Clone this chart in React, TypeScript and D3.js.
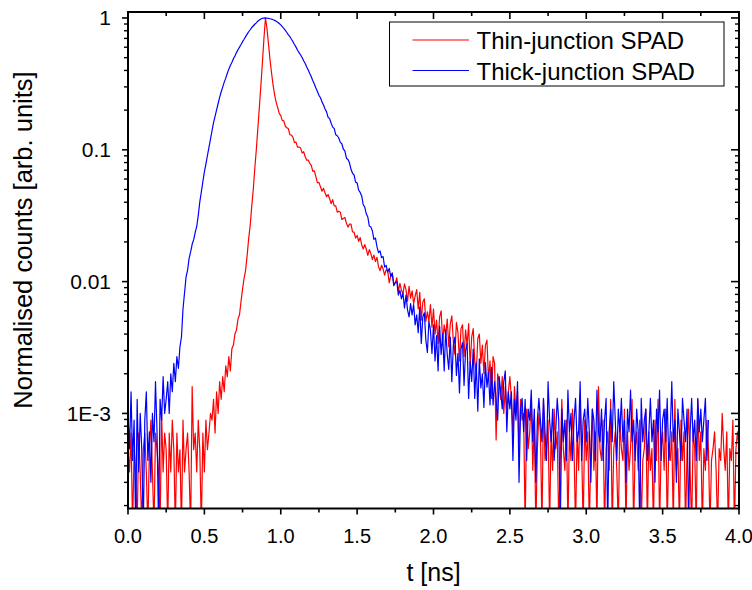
import React from "react";
import * as d3 from "d3";

// time step of the histogram (ns)
const T_STEP = 0.01;
// counts are stored normalised ×1e4 (peak = 10000)
const NORM = 1e-4;

// Thin-junction SPAD, t = 0.00 … 4.00 ns
const thinCounts: number[] = [
  5.3, 3.6, 7.1, 0, 5.3, 3.6, 0, 7.1, 3.6, 0,
  5.3, 7.1, 3.6, 0, 5.3, 8.9, 3.6, 0, 7.1, 5.3,
  3.6, 0, 10, 3.6, 7.1, 5.3, 0, 7.1, 3.6, 8.9,
  5.3, 0, 7.1, 3.6, 5.3, 0, 8.9, 3.6, 5.3, 7.1,
  3.6, 0, 16, 5.3, 7.1, 3.6, 8.9, 5.3, 0, 7.1,
  3.6, 8.9, 5.3, 7.1, 10, 8.9, 12.8, 7.1, 14.6, 10,
  17.4, 12.8, 19, 14.6, 23, 19, 27, 21, 31, 33,
  40, 43, 52, 56, 71, 88, 106, 122, 158, 212,
  268, 372, 498, 722, 1002, 1448, 2105, 3095, 4610, 7010,
  10000, 8290, 6310, 4790, 3810, 3090, 2610, 2290, 2090, 1890,
  1816, 1673, 1658, 1509, 1470, 1442, 1300, 1293, 1244, 1135,
  1142, 1048, 1050, 1030, 946, 967, 886, 834, 836, 788,
  762, 686, 693, 626, 562, 566, 525, 485, 510, 470,
  441, 458, 425, 390, 419, 376, 376, 336, 342, 336,
  296, 301, 307, 277, 259, 273, 273, 238, 237, 214,
  224, 202, 216, 190, 177, 191, 176, 158, 175, 163,
  147, 159, 142, 153, 130, 121, 133, 125, 112, 123,
  121, 98, 110, 116, 96, 98, 107, 84, 97, 86,
  81, 96, 87, 71, 92, 75, 85, 68, 78, 87,
  62, 83, 51, 70, 74, 50, 59, 50, 67, 45,
  62, 40, 51, 34, 54, 60, 35, 47, 39, 52,
  32, 48, 55, 35, 28, 49, 41, 25, 44, 47,
  27, 43, 33, 48, 23, 38, 44, 25, 20, 37,
  40, 24, 33, 20, 33, 36, 18, 25, 13, 27,
  24, 6.3, 20, 17.4, 12.8, 19, 10, 16, 10.8, 14.6,
  19, 12.8, 7.25, 16, 10, 14.6, 5.4, 12.8, 8.9, 10,
  0, 10.8, 5.4, 7.25, 12.8, 3.7, 8.9, 0, 5.4, 10,
  7.25, 0, 12.8, 4.4, 5.4, 8.9, 0, 7.25, 3.7, 10.8,
  5.4, 7.25, 0, 4.4, 12.8, 5.4, 3.7, 8.9, 0, 7.25,
  4.4, 10.8, 5.4, 0, 7.25, 3.7, 12.8, 5.4, 0, 8.9,
  4.4, 7.25, 0, 5.4, 10.8, 3.7, 7.25, 0, 16, 5.4,
  4.4, 8.9, 0, 5.4, 7.25, 3.7, 12.8, 0, 5.4, 7.25,
  3.7, 0, 8.9, 5.4, 4.4, 10.8, 0, 7.25, 3.7, 5.4,
  12.8, 0, 5.4, 7.25, 3.7, 8.9, 0, 4.4, 5.4, 10.8,
  0, 7.25, 3.7, 5.4, 0, 8.9, 4.4, 12.8, 0, 5.4,
  7.25, 3.7, 10.8, 0, 5.4, 4.4, 7.25, 0, 12.8, 3.7,
  5.4, 0, 8.9, 4.4, 7.25, 0, 5.4, 10.8, 3.7, 0,
  7.25, 5.4, 0, 12.8, 4.4, 7.25, 0, 5.4, 3.7, 8.9,
  5.4, 0, 4.4, 5.4, 7.25, 3.7, 0, 5.4, 4.4, 10,
  5.4, 3.7, 7.25, 0, 5.4, 4.4, 8.9, 0, 5.4, 7.25,
  5.4,
];

// Thick-junction SPAD, t = 0.00 … 3.80 ns
const thickCounts: number[] = [
  10, 5.4, 14.6, 4.4, 8.9, 0, 12.8, 3.6, 10, 5.4,
  0, 8.9, 14.6, 4.4, 7.25, 3, 10, 6.1, 17.4, 7.25,
  0, 12.8, 8.9, 19, 10, 12.8, 17.4, 10, 20, 14.6,
  24, 17.4, 27, 22, 32, 38, 62, 82, 108, 122,
  150, 168, 192, 208, 236, 262, 318, 402, 478, 572,
  680, 780, 905, 1045, 1205, 1395, 1605, 1795, 2010, 2245,
  2500, 2755, 2990, 3260, 3495, 3810, 4090, 4360, 4595, 4905,
  5145, 5460, 5745, 6010, 6290, 6610, 6890, 7215, 7540, 7860,
  8140, 8460, 8690, 8960, 9190, 9460, 9640, 9810, 9940, 10000,
  9990, 9960, 9940, 9860, 9810, 9690, 9590, 9440, 9290, 9070,
  8860, 8590, 8340, 8040, 7760, 7440, 7210, 6890, 6610, 6290,
  6010, 5690, 5460, 5240, 5010, 4740, 4510, 4240, 4030, 3790,
  3580, 3340, 3160, 2940, 2770, 2590, 2480, 2310, 2190, 2040,
  1939, 1764, 1724, 1590, 1485, 1452, 1303, 1278, 1229, 1138,
  1112, 1010, 979, 863, 843, 796, 711, 663, 644, 568,
  561, 495, 475, 447, 383, 367, 327, 309, 264, 260,
  242, 209, 214, 184, 166, 171, 152, 155, 129, 133,
  118, 126, 109, 116, 93, 98, 100, 79, 86, 74,
  82, 63, 79, 61, 54, 68, 56, 67, 47, 56,
  41, 64, 34, 54, 58, 36, 29, 50, 43, 28.5,
  47, 25, 39, 21, 46, 28, 40, 21, 43, 28,
  21.6, 38, 17.4, 33, 38, 19.4, 28.6, 14.3, 31, 34.5,
  16.3, 30, 34, 13, 24.8, 17.5, 30.8, 13, 24.2, 10.4,
  26, 15.6, 20, 11.1, 24.3, 15.8, 20.4, 11.6, 22.4, 11.6,
  17.4, 12.8, 8.9, 19, 14.6, 10.8, 17.4, 21, 7.25, 14.6,
  10.8, 14.6, 4.4, 12.8, 8.9, 17.4, 3, 10.8, 13, 7.25,
  12.8, 4.4, 10.8, 8.9, 15, 6.1, 10.8, 3, 8.9, 13,
  8.9, 6.1, 13, 7.25, 4.4, 17.4, 8.9, 6.1, 10.8, 4.4,
  7.25, 13, 8.9, 0, 10.8, 6.1, 8.9, 4.4, 15, 7.25,
  10, 4.4, 8.9, 13, 6.1, 7.25, 17.4, 4.4, 8.9, 10.8,
  6.1, 13, 7.25, 3, 10.8, 8.9, 4.4, 15, 7.25, 6.1,
  10.8, 4.4, 8.9, 13, 0, 7.25, 10.8, 6.1, 17.4, 8.9,
  4.4, 10.8, 7.25, 13, 6.1, 8.9, 3, 10.8, 7.25, 15,
  6.1, 8.9, 4.4, 10.8, 7.25, 0, 13, 6.1, 8.9, 10.8,
  4.4, 7.25, 13, 6.1, 8.9, 3, 10.8, 7.25, 15, 4.4,
  8.9, 10.8, 6.1, 13, 4.4, 7.25, 17.4, 6.1, 8.9, 3,
  10.8, 7.25, 4.4, 13, 8.9, 6.1, 10.8, 0, 7.25, 13,
  6.1, 8.9, 4.4, 13, 7.25, 10.8, 6.1, 8.9, 13, 4.4,
  8.9,
];

const seriesNames = ["Thin-junction SPAD", "Thick-junction SPAD"];
const seriesColors = ["#ff0000", "#0000ff"];

const xMajorTicks = [0, 0.5, 1, 1.5, 2, 2.5, 3, 3.5, 4];
const xMinorTicks = [0.25, 0.75, 1.25, 1.75, 2.25, 2.75, 3.25, 3.75];
const yMajorTicks = [1, 0.1, 0.01, 0.001];
const yTickLabels = ["1", "0.1", "0.01", "1E-3"];

const X_DOMAIN: [number, number] = [0, 4];
const Y_DOMAIN: [number, number] = [1.9e-4, 1.11];

const W = 752;
const H = 590;
const M = { left: 128, right: 739, top: 12, bottom: 508.5 };
const FONT = "'Liberation Sans', Arial, sans-serif";

export default function App() {
  const x = d3.scaleLinear().domain(X_DOMAIN).range([M.left, M.right]);
  const y = d3.scaleLog().domain(Y_DOMAIN).range([M.bottom, M.top]);

  const toPoints = (arr: number[]) =>
    arr.map((c, i) => ({ t: i * T_STEP, v: c * NORM }));

  const line = d3
    .line<{ t: number; v: number }>()
    .x((d) => x(d.t))
    .y((d) => (d.v > 0 ? y(d.v) : M.bottom + 20));

  const series = [toPoints(thinCounts), toPoints(thickCounts)];

  const yMinor: number[] = [];
  for (let e = -4; e <= 0; e++) {
    for (let m = 2; m <= 9; m++) {
      const v = m * Math.pow(10, e);
      if (v >= Y_DOMAIN[0] && v <= Y_DOMAIN[1]) yMinor.push(v);
    }
  }
  const fmt = d3.format(".1f");

  return (
    <svg
      width={W}
      height={H}
      style={{ position: "absolute", left: 0, top: 0, background: "#fff" }}
      fontFamily={FONT}
    >
      <defs>
        <clipPath id="plotClip">
          <rect x={M.left} y={M.top} width={M.right - M.left} height={M.bottom - M.top} />
        </clipPath>
      </defs>

      <g clipPath="url(#plotClip)">
        {series.map((s, i) => (
          <path
            key={i}
            d={line(s) || ""}
            fill="none"
            stroke={seriesColors[i]}
            strokeWidth={1.2}
            strokeLinejoin="round"
          />
        ))}
      </g>

      {/* frame */}
      <rect
        x={M.left}
        y={M.top}
        width={M.right - M.left}
        height={M.bottom - M.top}
        fill="none"
        stroke="#000"
        strokeWidth={2}
      />

      {/* x ticks */}
      {xMajorTicks.map((t) => (
        <g key={"xM" + t}>
          <line x1={x(t)} x2={x(t)} y1={M.bottom} y2={M.bottom + 6} stroke="#000" strokeWidth={1.6} />
          <line x1={x(t)} x2={x(t)} y1={M.top} y2={M.top + 7} stroke="#000" strokeWidth={1.6} />
          <text x={x(t)} y={M.bottom + 34} textAnchor="middle" fontSize={20} fill="#000">
            {fmt(t)}
          </text>
        </g>
      ))}
      {xMinorTicks.map((t) => (
        <g key={"xm" + t}>
          <line x1={x(t)} x2={x(t)} y1={M.bottom} y2={M.bottom + 4} stroke="#000" strokeWidth={1.6} />
          <line x1={x(t)} x2={x(t)} y1={M.top} y2={M.top + 4} stroke="#000" strokeWidth={1.6} />
        </g>
      ))}

      {/* y ticks */}
      {yMajorTicks.map((v, i) => (
        <g key={"yM" + v}>
          <line x1={M.left - 6} x2={M.left} y1={y(v)} y2={y(v)} stroke="#000" strokeWidth={1.6} />
          <line x1={M.right - 8} x2={M.right} y1={y(v)} y2={y(v)} stroke="#000" strokeWidth={1.6} />
          <text x={M.left - 17} y={y(v) + 7.5} textAnchor="end" fontSize={21} fill="#000">
            {yTickLabels[i]}
          </text>
        </g>
      ))}
      {yMinor.map((v) => (
        <g key={"ym" + v}>
          <line x1={M.left - 4} x2={M.left} y1={y(v)} y2={y(v)} stroke="#000" strokeWidth={1.4} />
          <line x1={M.right - 4} x2={M.right} y1={y(v)} y2={y(v)} stroke="#000" strokeWidth={1.4} />
        </g>
      ))}

      {/* axis titles */}
      <text x={(M.left + M.right) / 2} y={581} textAnchor="middle" fontSize={25} fill="#000">
        t [ns]
      </text>
      <text
        transform={`translate(32, 240) rotate(-90)`}
        textAnchor="middle"
        fontSize={25.5}
        fill="#000"
      >
        Normalised counts [arb. units]
      </text>

      {/* legend */}
      <rect x={389.5} y={22} width={334.5} height={64} fill="#fff" stroke="#000" strokeWidth={1} />
      {seriesNames.map((name, i) => (
        <g key={name}>
          <line
            x1={412.5}
            x2={469}
            y1={40 + i * 30.5}
            y2={40 + i * 30.5}
            stroke={seriesColors[i]}
            strokeWidth={1.2}
          />
          <text x={476.5} y={49 + i * 30.5} fontSize={24} fill="#000">
            {name}
          </text>
        </g>
      ))}
    </svg>
  );
}
